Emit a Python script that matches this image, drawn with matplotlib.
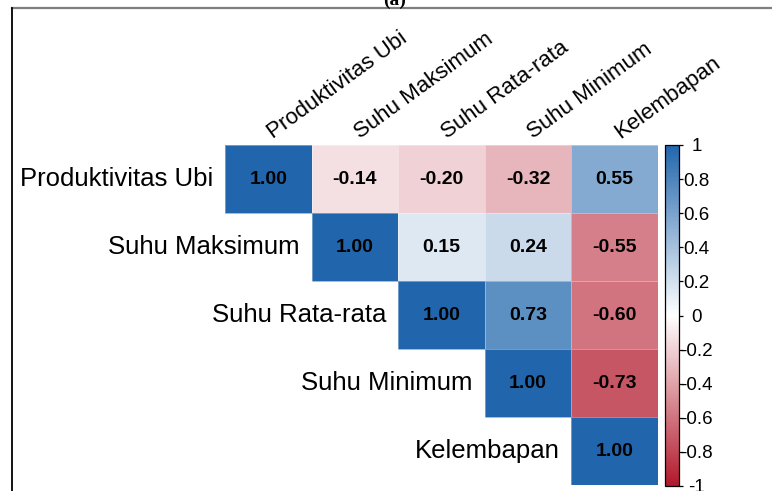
import numpy as np
import matplotlib
matplotlib.use("Agg")
import matplotlib.pyplot as plt
from matplotlib.colors import LinearSegmentedColormap
from matplotlib.lines import Line2D

plt.rcParams['font.family'] = ['Liberation Sans', 'DejaVu Sans']

# variabel dan matriks korelasi
variabel = ['Produktivitas Ubi', 'Suhu Maksimum', 'Suhu Rata-rata',
            'Suhu Minimum', 'Kelembapan']
korelasi = [
    [1.00, -0.14, -0.20, -0.32, 0.55],
    [-0.14, 1.00, 0.15, 0.24, -0.55],
    [-0.20, 0.15, 1.00, 0.73, -0.60],
    [-0.32, 0.24, 0.73, 1.00, -0.73],
    [0.55, -0.55, -0.60, -0.73, 1.00],
]
cbar_ticks = [1, 0.8, 0.6, 0.4, 0.2, 0, -0.2, -0.4, -0.6, -0.8, -1]

n = len(variabel)
mat = np.array(korelasi)
mask = np.tril(np.ones((n, n), dtype=bool), k=-1)
data = np.ma.masked_array(mat, mask=mask)

cmap = LinearSegmentedColormap.from_list('rdbu2', ['#B2182B', '#FFFFFF', '#2166AC'])

fig = plt.figure(figsize=(7.72, 4.91), dpi=100)

# bingkai
fig.add_artist(Line2D([12/772, 1], [1 - 8/491, 1 - 8/491], color='#7f7f7f', lw=1.6))
fig.add_artist(Line2D([12/772, 12/772], [0, 1 - 8/491], color='black', lw=1.3))
fig.text(395/772, 1 - 5/491, '(a)', family='Liberation Serif', weight='bold',
         fontsize=14, ha='center', va='baseline')

ax = fig.add_axes([225/772, 6/491, 433/772, 340/491])
mesh = ax.pcolormesh(np.arange(n + 1), np.arange(n + 1), data, cmap=cmap,
                     vmin=-1, vmax=1, edgecolors=(1, 1, 1, 0.35), linewidth=0.5)
ax.set_xlim(0, n)
ax.set_ylim(n, 0)
ax.axis('off')

for i in range(n):
    for j in range(i, n):
        ax.text(j + 0.5, i + 0.5, f'{mat[i, j]:.2f}', ha='center', va='center',
                fontsize=14, fontweight='bold', color='black')
    # label baris
    ax.text(i - 0.14, i + 0.5, variabel[i], ha='right', va='center', fontsize=18.5)
    # label kolom
    ax.text(i + 0.56, -0.09, variabel[i], rotation=36, rotation_mode='anchor',
            ha='left', va='baseline', fontsize=16)

cax = fig.add_axes([665/772, 5/491, 14/772, 341/491])
cb = fig.colorbar(mesh, cax=cax, ticks=cbar_ticks)
cb.outline.set_linewidth(0.9)
cb.outline.set_edgecolor('black')
cax.set_yticklabels([f'{t:g}' for t in cbar_ticks])
cax.tick_params(axis='y', length=3, width=0.9, pad=9.5, labelsize=13.5)
for lab in cax.get_yticklabels():
    lab.set_horizontalalignment('center')

fig.savefig('out.png', dpi=100)
